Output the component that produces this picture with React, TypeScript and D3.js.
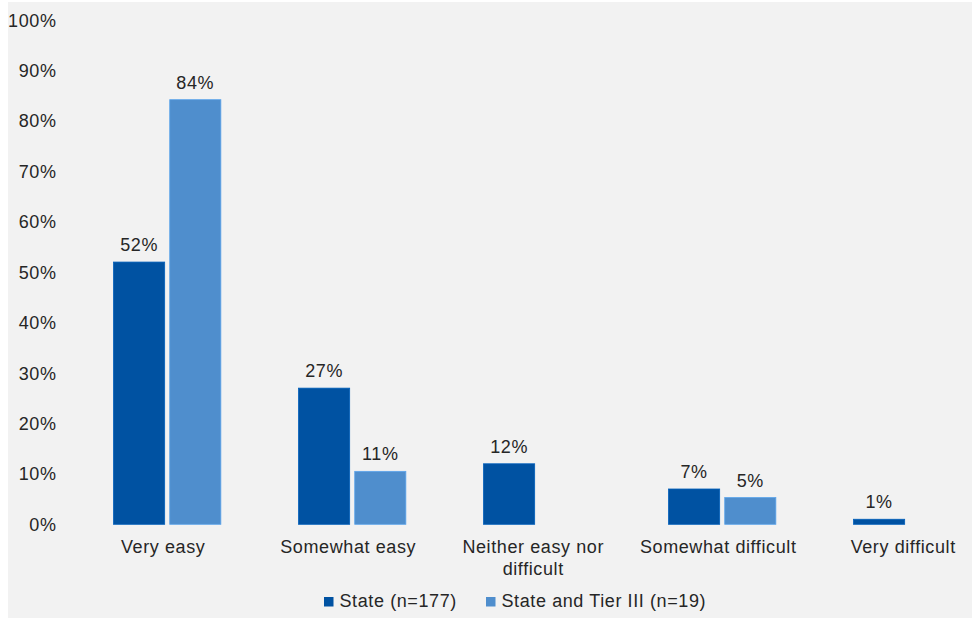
import React from "react";
import * as d3 from "d3";

// Response categories along the x axis
const categories: string[][] = [
  ["Very easy"],
  ["Somewhat easy"],
  ["Neither easy nor", "difficult"],
  ["Somewhat difficult"],
  ["Very difficult"],
];

// Share of respondents per category, in percent
const stateValues = [52, 27, 12, 7, 1];
const tierValues = [84.2, 10.5, 0, 5.3, 0];

const seriesNames = ["State (n=177)", "State and Tier III (n=19)"];
const seriesColors = ["#0052a2", "#4f8ecd"];

const yTicks = [0, 10, 20, 30, 40, 50, 60, 70, 80, 90, 100];

const W = 973;
const H = 619;
const FONT = "'Liberation Sans', Arial, Helvetica, sans-serif";
const TEXT = "#262626";

export default function App() {
  const keys = categories.map((c) => c.join(" "));
  const x0 = d3
    .scaleBand<string>()
    .domain(keys)
    .range([74.7, 999.7])
    .paddingInner(0.42)
    .paddingOuter(0.21);
  const x1 = d3
    .scaleBand<number>()
    .domain([0, 1])
    .range([0, x0.bandwidth()])
    .paddingInner(0.09);
  const y = d3.scaleLinear().domain([0, 100]).range([524.3, 20]);
  const fmt = (v: number) => `${Math.round(v)}%`;

  const series = [stateValues, tierValues];

  return (
    <svg
      width={W}
      height={H}
      style={{ position: "absolute", left: 0, top: 0, background: "#ffffff" }}
      fontFamily={FONT}
    >
      <rect x={8} y={2} width={964} height={616} fill="#f2f2f2" />

      {/* y axis tick labels */}
      {yTicks.map((t) => (
        <text
          key={t}
          x={56.5}
          y={y(t)}
          dy={6.5}
          textAnchor="end"
          fontSize={18}
          letterSpacing={0.6}
          fill={TEXT}
        >
          {t}%
        </text>
      ))}

      {/* bars and value labels */}
      {keys.map((k, ci) => (
        <g key={k} transform={`translate(${x0(k)},0)`}>
          {series.map((vals, si) => {
            const v = vals[ci];
            if (!v) return null;
            const bx = x1(si)!;
            const bw = x1.bandwidth();
            return (
              <g key={si}>
                <rect
                  x={bx}
                  y={y(v)}
                  width={bw}
                  height={y(0) - y(v)}
                  fill={seriesColors[si]}
                  stroke={d3.color(seriesColors[si])!.brighter(0.4).formatHex()}
                  strokeWidth={0.8}
                />
                <text
                  x={bx + bw / 2}
                  y={y(v) - 11}
                  textAnchor="middle"
                  fontSize={18}
                  letterSpacing={0.6}
                  fill={TEXT}
                >
                  {fmt(v)}
                </text>
              </g>
            );
          })}
          {categories[ci].map((line, li) => (
            <text
              key={li}
              x={x0.bandwidth() / 2 - 4}
              y={553 + li * 22}
              textAnchor="middle"
              fontSize={18}
              letterSpacing={0.6}
              fill={TEXT}
            >
              {line}
            </text>
          ))}
        </g>
      ))}

      {/* legend */}
      {seriesNames.map((name, i) => {
        const lx = [324, 486][i];
        return (
          <g key={name} transform={`translate(${lx},597)`}>
            <rect width={9.5} height={9.5} fill={seriesColors[i]} />
            <text
              x={15.5}
              y={10}
              fontSize={18}
              letterSpacing={0.6}
              fill={TEXT}
            >
              {name}
            </text>
          </g>
        );
      })}
    </svg>
  );
}
